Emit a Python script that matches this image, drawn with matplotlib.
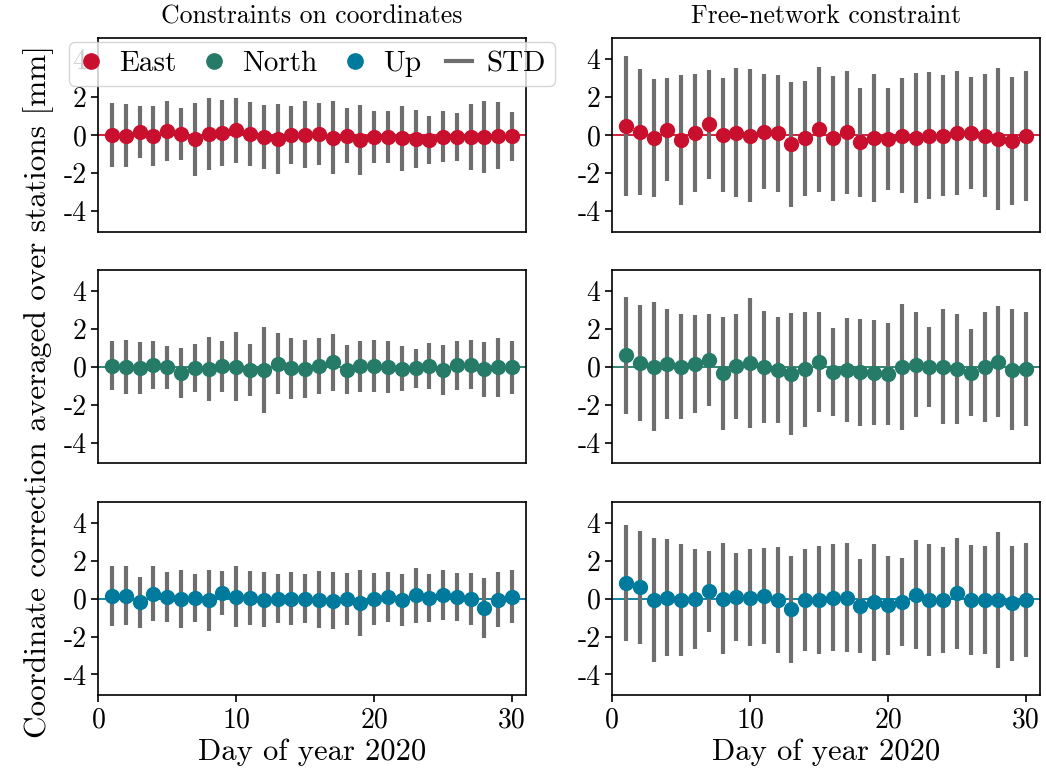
"""Daily coordinate corrections averaged over stations, two constraint setups."""

import matplotlib
matplotlib.use("Agg")
import matplotlib.pyplot as plt
from matplotlib.lines import Line2D
import numpy as np

plt.rcParams.update({
    "font.family": "serif",
    "font.serif": ["cmr10"],
    "mathtext.fontset": "cm",
    "axes.unicode_minus": False,
    "axes.formatter.use_mathtext": False,
})

days = np.arange(1, 31)

# constraints on coordinates
east_coord = [0.00, -0.03, 0.14, -0.04, 0.21, 0.06, -0.22, 0.03, 0.11, 0.24,
              0.05, -0.10, -0.20, 0.01, 0.02, 0.03, -0.14, -0.04, -0.25, -0.11,
              -0.10, -0.17, -0.23, -0.26, -0.09, -0.11, -0.12, -0.11, -0.05, -0.06]
east_coord_std = [1.68, 1.65, 1.37, 1.59, 1.58, 1.38, 1.92, 1.90, 1.76, 1.73,
                  1.67, 1.67, 1.85, 1.54, 1.77, 1.64, 1.91, 1.44, 1.85, 1.38,
                  1.39, 1.71, 1.53, 1.28, 1.33, 1.29, 1.74, 1.89, 1.77, 1.29]
north_coord = [0.06, 0.00, -0.05, 0.10, -0.02, -0.32, -0.06, -0.10, 0.04, 0.01,
               -0.17, -0.17, 0.17, -0.08, -0.10, 0.02, 0.25, -0.16, 0.03, 0.05,
               0.00, -0.10, -0.08, 0.05, -0.18, 0.08, 0.12, -0.14, -0.02, -0.03]
north_coord_std = [1.30, 1.43, 1.36, 1.29, 1.13, 1.31, 1.28, 1.69, 1.35, 1.83,
                   1.36, 2.25, 1.61, 1.61, 1.52, 1.48, 1.50, 1.30, 1.34, 1.37,
                   1.36, 1.19, 1.03, 1.23, 1.33, 1.28, 1.29, 1.44, 1.55, 1.38]
up_coord = [0.15, 0.15, -0.20, 0.27, 0.10, -0.02, 0.04, -0.09, 0.29, 0.11,
            0.03, -0.06, 0.00, 0.00, 0.00, -0.05, -0.10, -0.02, -0.22, 0.00,
            0.10, -0.07, 0.17, 0.04, 0.19, 0.10, 0.00, -0.47, -0.05, 0.10]
up_coord_std = [1.60, 1.55, 1.36, 1.43, 1.32, 1.53, 1.25, 1.63, 1.17, 1.59,
                1.42, 1.45, 1.30, 1.39, 1.29, 1.49, 1.52, 1.39, 1.75, 1.37,
                1.32, 1.35, 1.45, 1.28, 1.32, 1.28, 1.37, 1.58, 1.46, 1.40]

# free-network constraint
east_free = [0.46, 0.14, -0.16, 0.28, -0.27, 0.10, 0.56, 0.00, 0.13, -0.03,
             0.17, 0.10, -0.50, -0.17, 0.29, -0.17, 0.14, -0.39, -0.16, -0.22,
             -0.03, -0.16, -0.03, -0.03, 0.12, 0.09, -0.05, -0.21, -0.32, -0.03]
east_free_std = [3.70, 3.32, 3.13, 2.71, 3.43, 3.10, 2.89, 3.03, 3.38, 3.53,
                 3.03, 3.09, 3.28, 3.03, 3.31, 3.30, 3.25, 2.88, 3.39, 2.69,
                 3.05, 3.43, 3.34, 3.19, 3.27, 2.96, 3.25, 3.77, 3.38, 3.43]
north_free = [0.60, 0.22, 0.01, 0.15, 0.00, 0.15, 0.36, -0.35, 0.03, 0.19,
              0.00, -0.16, -0.38, -0.14, 0.27, -0.29, -0.16, -0.28, -0.31, -0.36,
              0.00, 0.12, 0.01, 0.00, -0.12, -0.31, 0.00, 0.28, -0.15, -0.12]
north_free_std = [3.10, 3.07, 3.42, 2.88, 2.77, 2.58, 2.43, 2.96, 2.77, 3.44,
                  2.96, 2.78, 3.23, 3.04, 2.65, 2.32, 2.73, 2.83, 2.78, 2.70,
                  3.34, 2.78, 2.11, 3.03, 2.92, 2.30, 2.89, 2.94, 3.21, 2.99]
up_free = [0.82, 0.60, -0.05, 0.06, -0.06, -0.03, 0.39, 0.01, 0.10, 0.05,
           0.16, -0.07, -0.56, -0.07, -0.06, 0.06, 0.05, -0.39, -0.20, -0.35,
           -0.19, 0.22, -0.07, -0.07, 0.28, -0.08, -0.06, -0.07, -0.24, -0.07]
up_free_std = [3.06, 2.99, 3.27, 3.07, 2.94, 2.64, 2.13, 2.95, 2.32, 2.57,
               2.54, 2.80, 2.83, 2.71, 2.84, 2.83, 2.89, 2.46, 3.07, 2.61,
               2.33, 2.90, 2.96, 2.82, 2.92, 2.91, 2.84, 3.57, 3.03, 3.01]

component_names = ["East", "North", "Up"]
component_colors = ["#c8102e", "#267b68", "#007a9c"]
std_color = "#6e6e6e"
column_titles = ["Constraints on coordinates", "Free-network constraint"]

panels = [
    [(east_coord, east_coord_std), (east_free, east_free_std)],
    [(north_coord, north_coord_std), (north_free, north_free_std)],
    [(up_coord, up_coord_std), (up_free, up_free_std)],
]


def main() -> None:
    fig, axes = plt.subplots(3, 2, figsize=(10.46, 7.83), dpi=100)
    fig.subplots_adjust(left=0.094, right=0.994, bottom=0.112, top=0.951,
                        wspace=0.202, hspace=0.2)

    for row, (name, color) in enumerate(zip(component_names, component_colors)):
        for col in range(2):
            ax = axes[row, col]
            mean, std = panels[row][col]
            ax.axhline(0, color=color, linewidth=1.3, zorder=1)
            ax.errorbar(days, mean, yerr=std, fmt="none", ecolor=std_color,
                        elinewidth=3, capsize=0, zorder=2)
            ax.plot(days, mean, "o", color=color, markersize=10, zorder=3)
            ax.set_xlim(0, 31)
            ax.set_ylim(-5.1, 5.1)
            ax.set_yticks([-4, -2, 0, 2, 4])
            ax.set_xticks([0, 10, 20, 30])
            ax.tick_params(labelsize=20, width=1.2, length=5)
            for spine in ax.spines.values():
                spine.set_linewidth(1.2)
            if row < 2:
                ax.tick_params(bottom=False, labelbottom=False)
            else:
                ax.set_xlabel("Day of year 2020", fontsize=22, labelpad=4)
            if row == 0:
                ax.set_title(column_titles[col], fontsize=18.5, pad=11)

    handles = [Line2D([], [], marker="o", linestyle="none", color=c, markersize=11)
               for c in component_colors]
    handles.append(Line2D([], [], color=std_color, linewidth=3))
    axes[0, 0].legend(handles, component_names + ["STD"], loc="upper center",
                      bbox_to_anchor=(0.5, 0.98), ncol=4, fontsize=21,
                      borderaxespad=0.0, handlelength=0.9, handletextpad=0.5,
                      columnspacing=0.85, borderpad=0.3, framealpha=0.8)

    fig.supylabel("Coordinate correction averaged over stations [mm]",
                  fontsize=22.5, x=0.022)
    fig.savefig("out.png")
    plt.close(fig)


if __name__ == "__main__":
    main()
